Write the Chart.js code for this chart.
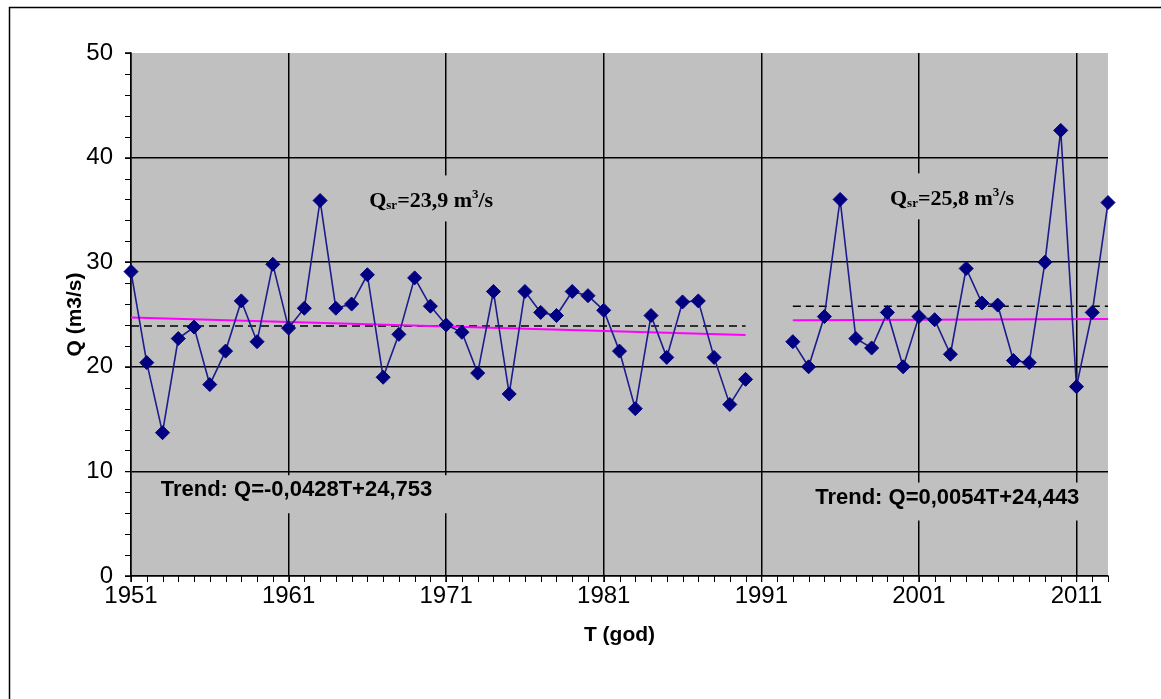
<!DOCTYPE html>
<html>
<head>
<meta charset="utf-8">
<script src="https://cdn.jsdelivr.net/npm/chart.js@4.4.1/dist/chart.umd.min.js"></script>
<style>
html,body{margin:0;padding:0;background:#ffffff;}
#wrap{width:1161px;height:699px;position:relative;}
canvas{display:block;}
</style>
</head>
<body>
<div id="wrap"><canvas id="c" width="1161" height="699"></canvas></div>
<script>
// ---- data ----
const years1 = [1951,1952,1953,1954,1955,1956,1957,1958,1959,1960,
                1961,1962,1963,1964,1965,1966,1967,1968,1969,1970,
                1971,1972,1973,1974,1975,1976,1977,1978,1979,1980,
                1981,1982,1983,1984,1985,1986,1987,1988,1989,1990];
const flow1 = [29.1,20.4,13.7,22.7,23.8,18.3,21.5,26.3,22.4,29.8,
               23.7,25.6,35.9,25.6,26.0,28.8,19.0,23.1,28.5,25.8,
               24.0,23.3,19.4,27.2,17.4,27.2,25.2,24.9,27.2,26.8,
               25.4,21.5,16.0,24.9,20.9,26.2,26.3,20.9,16.4,18.8];
const years2 = [1993,1994,1995,1996,1997,1998,1999,2000,2001,2002,
                2003,2004,2005,2006,2007,2008,2009,2010,2011,2012,2013];
const flow2 = [22.4,20.0,24.8,36.0,22.7,21.8,25.2,20.0,24.8,24.5,
               21.2,29.4,26.1,25.9,20.6,20.4,30.0,42.6,18.1,25.2,35.7];
const meanYears1 = [1951, 1990];
const meanFlow1  = [23.9, 23.9];
const meanYears2 = [1993, 2013];
const meanFlow2  = [25.8, 25.8];
const trendYears1 = [1951, 1990];
const trendFlow1  = [24.71, 23.04];
const trendYears2 = [1993, 2013];
const trendFlow2  = [24.45, 24.56];
const xTicks = [1951,1961,1971,1981,1991,2001,2011];
const yTicks = [0,10,20,30,40,50];
const xRange = [1951, 2013];
const yRange = [0, 50];
const xTitle = 'T (god)';
const yTitle = 'Q (m3/s)';
const meanLabels = [
  {x: 1970.05, y: 36.0, parts: [['Q',0],['sr',-1],['=23,9 m',0],['3',1],['/s',0]]},
  {x: 2003.1,  y: 36.2, parts: [['Q',0],['sr',-1],['=25,8 m',0],['3',1],['/s',0]]}
];
const trendLabels = [
  {x: 1961.5, y: 8.2, text: 'Trend: Q=-0,0428T+24,753'},
  {x: 2002.8, y: 7.5, text: 'Trend: Q=0,0054T+24,443'}
];

const pts = (xs, ys) => xs.map((x, i) => ({x: x, y: ys[i]}));

const frameAndBg = {
  id: 'frameAndBg',
  beforeDraw(chart) {
    const ctx = chart.ctx, a = chart.chartArea;
    ctx.save();
    ctx.fillStyle = '#ffffff';
    ctx.fillRect(0, 0, chart.width, chart.height);
    ctx.fillStyle = '#c0c0c0';
    ctx.fillRect(a.left, a.top, a.right - a.left, a.bottom - a.top);
    ctx.strokeStyle = '#000000';
    ctx.lineWidth = 1.5;
    ctx.beginPath();
    ctx.moveTo(9.5, chart.height);
    ctx.lineTo(9.5, 7.5);
    ctx.lineTo(chart.width, 7.5);
    ctx.stroke();
    ctx.restore();
  }
};

const textBoxes = {
  id: 'textBoxes',
  beforeDatasetsDraw(chart) {
    const ctx = chart.ctx, xs = chart.scales.x, ys = chart.scales.y;
    ctx.save();
    const fs = 22;
    meanLabels.forEach(l => {
      const cx = xs.getPixelForValue(l.x), cy = ys.getPixelForValue(l.y);
      let total = 0;
      const widths = l.parts.map(p => {
        const s = p[1] === 0 ? fs : Math.round(fs * 0.6);
        ctx.font = 'bold ' + s + 'px "Liberation Serif", "Times New Roman", serif';
        const w = ctx.measureText(p[0]).width;
        total += w;
        return w;
      });
      ctx.fillStyle = '#c0c0c0';
      ctx.fillRect(cx - total / 2 - 14, cy - 24, total + 28, 46);
      let x = cx - total / 2;
      ctx.fillStyle = '#000000';
      ctx.textBaseline = 'alphabetic';
      ctx.textAlign = 'left';
      const base = cy + fs * 0.33;
      l.parts.forEach((p, i) => {
        const s = p[1] === 0 ? fs : Math.round(fs * 0.6);
        ctx.font = 'bold ' + s + 'px "Liberation Serif", "Times New Roman", serif';
        let y = base;
        if (p[1] === -1) y = base + fs * 0.12;
        if (p[1] === 1) y = base - fs * 0.38;
        ctx.fillText(p[0], x, y);
        x += widths[i];
      });
    });
    trendLabels.forEach(l => {
      const cx = xs.getPixelForValue(l.x), cy = ys.getPixelForValue(l.y);
      ctx.font = 'bold 22px "Liberation Sans", Arial, sans-serif';
      const w = ctx.measureText(l.text).width;
      ctx.fillStyle = '#c0c0c0';
      ctx.fillRect(cx - w / 2 - 18, cy - 15, w + 36, 38);
      ctx.fillStyle = '#000000';
      ctx.textAlign = 'center';
      ctx.textBaseline = 'middle';
      ctx.fillText(l.text, cx, cy);
    });
    ctx.restore();
  }
};

const minorTicks = {
  id: 'minorTicks',
  afterDraw(chart) {
    const ctx = chart.ctx, xs = chart.scales.x, ys = chart.scales.y, a = chart.chartArea;
    ctx.save();
    ctx.strokeStyle = '#000000';
    ctx.lineWidth = 1;
    ctx.beginPath();
    for (let yr = xRange[0]; yr <= xRange[1]; yr++) {
      const px = Math.round(xs.getPixelForValue(yr)) + 0.5;
      ctx.moveTo(px, a.bottom);
      ctx.lineTo(px, a.bottom + 6);
    }
    for (let v = yRange[0]; v <= yRange[1]; v += 2) {
      const py = Math.round(ys.getPixelForValue(v)) + 0.5;
      ctx.moveTo(a.left - 6, py);
      ctx.lineTo(a.left, py);
    }
    ctx.stroke();
    ctx.restore();
  }
};

const navy = '#000080';
const seriesStyle = {borderColor: '#1c1c8c', backgroundColor: navy, borderWidth: 1.6,
  pointStyle: 'rectRot', pointRadius: 7, pointBackgroundColor: navy, pointBorderColor: navy,
  pointBorderWidth: 1, tension: 0, order: 0, clip: false};
new Chart(document.getElementById('c'), {
  type: 'line',
  data: {
    datasets: [
      Object.assign({data: pts(years1, flow1)}, seriesStyle),
      Object.assign({data: pts(years2, flow2)}, seriesStyle),
      {data: pts(trendYears1, trendFlow1), borderColor: '#ff00ff', borderWidth: 2, pointRadius: 0, order: 1},
      {data: pts(trendYears2, trendFlow2), borderColor: '#ff00ff', borderWidth: 2, pointRadius: 0, order: 1},
      {data: pts(meanYears1, meanFlow1), borderColor: '#000000', borderWidth: 1.5, borderDash: [8, 5], pointRadius: 0, order: 2},
      {data: pts(meanYears2, meanFlow2), borderColor: '#000000', borderWidth: 1.5, borderDash: [8, 5], pointRadius: 0, order: 2}
    ]
  },
  options: {
    responsive: false,
    devicePixelRatio: 1,
    animation: false,
    layout: {padding: {left: 0, right: 53, top: 53, bottom: 0}},
    plugins: {legend: {display: false}, tooltip: {enabled: false}},
    scales: {
      x: {
        type: 'linear', min: xRange[0], max: xRange[1],
        afterBuildTicks: s => { s.ticks = xTicks.map(v => ({value: v})); },
        afterFit: s => { s.height = 123; },
        grid: {color: '#000000', lineWidth: 1.5, tickLength: 6, tickColor: '#000000', tickWidth: 1, drawTicks: true},
        border: {display: true, color: '#000000', width: 1.5},
        ticks: {color: '#000000', padding: 0, maxRotation: 0, autoSkip: false,
                font: {family: '"Liberation Sans", Arial, sans-serif', size: 24},
                callback: v => String(v)},
        title: {display: true, text: xTitle, color: '#000000',
                font: {family: '"Liberation Sans", Arial, sans-serif', size: 21, weight: 'bold'},
                padding: {top: 0, bottom: 51}}
      },
      y: {
        type: 'linear', min: yRange[0], max: yRange[1],
        afterBuildTicks: s => { s.ticks = yTicks.map(v => ({value: v})); },
        afterFit: s => { s.width = 131; },
        grid: {color: c => (c.tick && c.tick.value === yRange[1]) ? 'rgba(0,0,0,0)' : '#000000',
               lineWidth: 1.5, tickLength: 6, tickColor: '#000000', tickWidth: 1},
        border: {display: true, color: '#000000', width: 1.5},
        ticks: {color: '#000000', padding: 12,
                font: {family: '"Liberation Sans", Arial, sans-serif', size: 24},
                callback: v => String(v)},
        title: {display: true, text: yTitle, color: '#000000',
                font: {family: '"Liberation Sans", Arial, sans-serif', size: 21, weight: 'bold'},
                padding: {top: 63, bottom: 0}}
      }
    }
  },
  plugins: [frameAndBg, textBoxes, minorTicks]
});
</script>
</body>
</html>
